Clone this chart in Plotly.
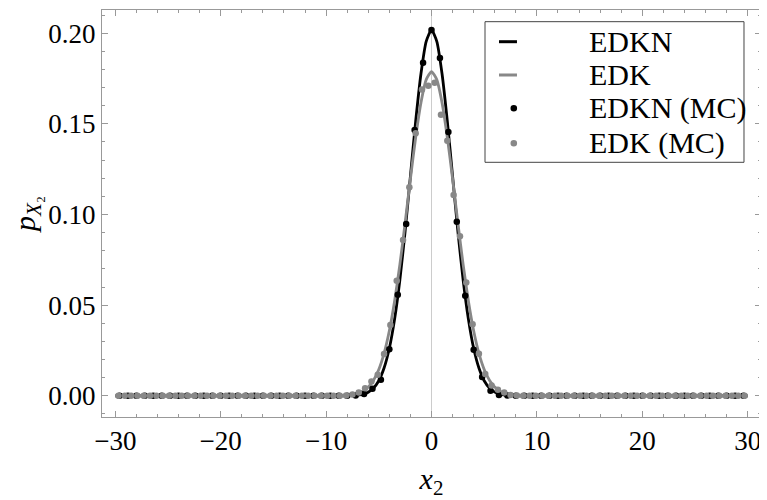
import plotly.graph_objects as go

# ---- data ----
# smooth curves (x grid and densities)
line_x = [-30, -12, -10, -9.0, -8.5, -8.0, -7.5, -7.0, -6.5, -6.0, -5.5, -5.0, -4.5, -4.0, -3.5, -3.0,
          -2.5, -2.0, -1.5, -1.0, -0.5, 0.0, 0.5, 1.0, 1.5, 2.0, 2.5, 3.0, 3.5, 4.0, 4.5,
          5.0, 5.5, 6.0, 6.5, 7.0, 7.5, 8.0, 8.5, 9.0, 10, 12, 30]
edkn_line = [0, 0, 0, 0.0, 0.0, 0.0, 0.0001, 0.0004, 0.0009, 0.0020, 0.0043, 0.0083, 0.0153, 0.0262,
             0.0423, 0.0640, 0.0909, 0.1212, 0.1515, 0.1776, 0.1955, 0.2018, 0.1955, 0.1776,
             0.1515, 0.1212, 0.0909, 0.0640, 0.0423, 0.0262, 0.0153, 0.0083, 0.0043, 0.0020,
             0.0009, 0.0004, 0.0001, 0.0, 0.0, 0.0, 0, 0, 0]
edk_line = [0, 0, 0, 0.0, 0.0001, 0.0003, 0.0006, 0.0013, 0.0026, 0.0048, 0.0086, 0.0145, 0.0234,
            0.0359, 0.0523, 0.0724, 0.0955, 0.1197, 0.1426, 0.1617, 0.1744, 0.1788, 0.1744,
            0.1617, 0.1426, 0.1197, 0.0955, 0.0724, 0.0523, 0.0359, 0.0234, 0.0145, 0.0086,
            0.0048, 0.0026, 0.0013, 0.0006, 0.0003, 0.0001, 0.0, 0, 0, 0]

# Monte Carlo histogram points, EDKN (bin centres -29.6 ... 29.6, width 0.8)
edkn_mc_x = [round(-29.6 + 0.8 * k, 2) for k in range(75)]
edkn_mc_core = {-7.2: 0.0002, -6.4: 0.0010, -5.6: 0.0039, -4.8: 0.0088, -4.0: 0.0257,
                -3.2: 0.0557, -2.4: 0.0947, -1.6: 0.1466, -0.8: 0.1837, 0.0: 0.2018,
                0.8: 0.1863, 1.6: 0.1455, 2.4: 0.0960, 3.2: 0.0552, 4.0: 0.0254,
                4.8: 0.0103, 5.6: 0.0028, 6.4: 0.0004, 7.2: 0.0001}
edkn_mc_y = [edkn_mc_core.get(x, 0.0) for x in edkn_mc_x]

# Monte Carlo histogram points, EDK (bin centres -29.7 ... 29.7, width 0.6)
edk_mc_x = [round(-29.7 + 0.6 * k, 2) for k in range(100)]
edk_mc_core = {-8.1: 0.0002, -7.5: 0.0007, -6.9: 0.0018, -6.3: 0.0042, -5.7: 0.0079,
               -5.1: 0.0116, -4.5: 0.0230, -3.9: 0.0390, -3.3: 0.0634, -2.7: 0.0860,
               -2.1: 0.1150, -1.5: 0.1448, -0.9: 0.1690, -0.3: 0.1710, 0.3: 0.1727,
               0.9: 0.1550, 1.5: 0.1407, 2.1: 0.1108, 2.7: 0.0880, 3.3: 0.0625,
               3.9: 0.0395, 4.5: 0.0232, 5.1: 0.0120, 5.7: 0.0057, 6.3: 0.0033,
               6.9: 0.0018, 7.5: 0.0005, 8.1: 0.0001}
edk_mc_y = [edk_mc_core.get(x, 0.0) for x in edk_mc_x]

x_ticks = [-30, -20, -10, 0, 10, 20, 30]
y_ticks = [0.00, 0.05, 0.10, 0.15, 0.20]
legend_names = ["EDKN", "EDK", "EDKN (MC)", "EDK (MC)"]

BLACK = "#000000"
GRAY = "#888888"
FRAME = "#999999"
FONT = "Liberation Serif"

fig = go.Figure()
fig.add_trace(go.Scatter(x=line_x, y=edkn_line, mode="lines", name=legend_names[0],
                         line=dict(color=BLACK, width=2.8, shape="spline", smoothing=0.6)))
fig.add_trace(go.Scatter(x=line_x, y=edk_line, mode="lines", name=legend_names[1],
                         line=dict(color=GRAY, width=2.8, shape="spline", smoothing=0.6)))
fig.add_trace(go.Scatter(x=edkn_mc_x, y=edkn_mc_y, mode="markers", name=legend_names[2],
                         marker=dict(color=BLACK, size=6.5)))
fig.add_trace(go.Scatter(x=edk_mc_x, y=edk_mc_y, mode="markers", name=legend_names[3],
                         marker=dict(color=GRAY, size=6.5)))

# vertical axis line at x = 0
fig.add_shape(type="line", xref="x", yref="paper", x0=0, x1=0, y0=0, y1=1,
              line=dict(color="#cccccc", width=1), layer="below")

# ---- legend drawn as a framed box (matches reference spacing) ----
leg_x0, leg_x1, leg_y0, leg_y1 = 0.5812, 0.9742, 0.6258, 0.9713
row_y = [0.9221, 0.8403, 0.7585, 0.6725]
sym_x0, sym_x1, dot_x = 0.6024, 0.6297, 0.6249
text_x = 0.736
fig.add_shape(type="rect", xref="paper", yref="paper", x0=leg_x0, x1=leg_x1,
              y0=leg_y0, y1=leg_y1, line=dict(color="#444444", width=1),
              fillcolor="white", layer="above")
styles = [("line", BLACK), ("line", GRAY), ("dot", BLACK), ("dot", GRAY)]
for (kind, col), yy, name in zip(styles, row_y, legend_names):
    if kind == "line":
        fig.add_shape(type="line", xref="paper", yref="paper", x0=sym_x0, x1=sym_x1,
                      y0=yy, y1=yy, line=dict(color=col, width=3), layer="above")
    else:
        fig.add_shape(type="circle", xref="paper", yref="paper",
                      xsizemode="pixel", ysizemode="pixel", xanchor=dot_x, yanchor=yy,
                      x0=-3.3, x1=3.3, y0=-3.3, y1=3.3,
                      line=dict(color=col, width=0), fillcolor=col, layer="above")
    fig.add_annotation(x=text_x, y=yy, xref="paper", yref="paper", text=name,
                       showarrow=False, xanchor="left", yanchor="middle",
                       font=dict(family=FONT, size=30, color="black"))

axis_common = dict(showgrid=False, zeroline=False, showline=True, linecolor=FRAME,
                   linewidth=1, mirror="ticks", ticks="inside", tickcolor=FRAME,
                   ticklen=6, tickwidth=1, tickfont=dict(family=FONT, size=27, color="black"))

fig.update_xaxes(range=[-31.26, 31.26], tickvals=x_ticks,
                 minor=dict(dtick=2, tick0=0, ticks="inside", ticklen=3, tickcolor=FRAME),
                 title=dict(text="<i>x</i><sub>2</sub>", font=dict(family=FONT, size=30),
                            standoff=16),
                 **axis_common)
fig.update_yaxes(range=[-0.0117, 0.2128], tickvals=y_ticks, tickformat=".2f",
                 minor=dict(dtick=0.01, tick0=0, ticks="inside", ticklen=3, tickcolor=FRAME),
                 title=dict(text="<i>p</i><sub><i>X</i>₂</sub>", font=dict(family=FONT, size=30),
                            standoff=4),
                 **axis_common)

# the page body adds an 8 px offset, so the figure is sized/margined to compensate
fig.update_layout(
    width=759, height=492,
    margin=dict(l=94, r=6, t=2, b=83, autoexpand=False),
    plot_bgcolor="white", paper_bgcolor="white",
    font=dict(family=FONT, color="black"),
    showlegend=False,
)

fig.write_html("out.html")
